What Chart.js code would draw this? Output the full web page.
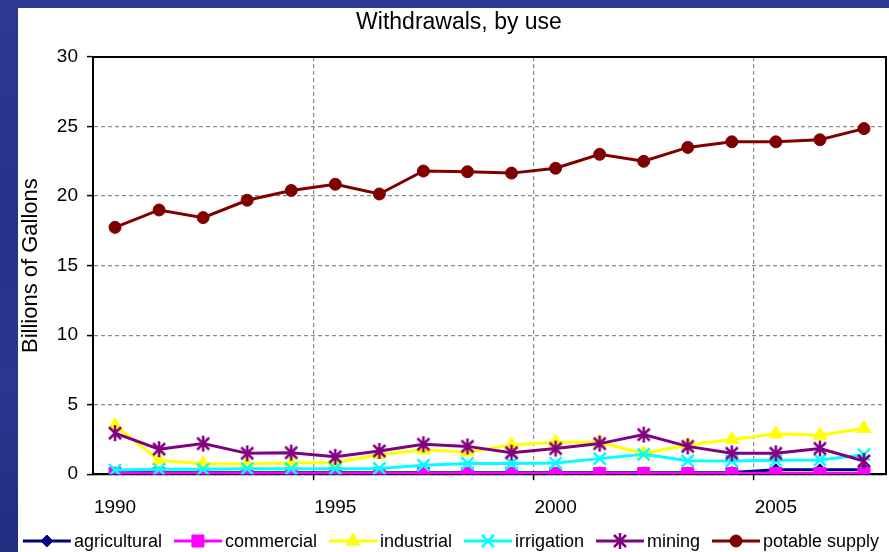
<!DOCTYPE html>
<html>
<head>
<meta charset="utf-8">
<script src="https://cdn.jsdelivr.net/npm/chart.js@4.4.1/dist/chart.umd.min.js"></script>
<style>
  html, body { margin: 0; padding: 0; }
  body {
    width: 889px; height: 552px; overflow: hidden; position: relative;
    background: linear-gradient(180deg, #2c3a92 0%, #25328a 40%, #2a378f 70%, #222d80 100%);
  }
  #panel { position: absolute; left: 18px; top: 8px; width: 871px; height: 544px; background: #fff; }
  canvas { display: block; }
</style>
</head>
<body>
<div id="panel"><canvas id="c" width="871" height="544"></canvas></div>
<script>
// ---- data ----
const years = ['1990','1991','1992','1993','1994','1995','1996','1997','1998','1999',
               '2000','2001','2002','2003','2004','2005','2006','2007'];
const xTickLabels = ['1990','1995','2000','2005'];
const yTicks = [0, 5, 10, 15, 20, 25, 30];
const chartTitle = 'Withdrawals, by use';
const yTitle = 'Billions of Gallons';

const agricultural = [0.1,0.1,0.1,0.1,0.1,0.1,0.1,0.1,0.1,0.1,0.1,0.1,0.1,0.1,0.12,0.32,0.32,0.32];
const commercial   = [0.05,0.05,0.05,0.05,0.05,0.05,0.05,0.05,0.05,0.05,0.05,0.05,0.05,0.05,0.05,0.05,0.05,0.05];
const industrial   = [3.5,1.0,0.75,0.75,0.8,0.85,1.4,1.75,1.6,2.1,2.3,2.3,1.5,2.1,2.5,2.9,2.8,3.3];
const irrigation   = [0.3,0.35,0.35,0.4,0.4,0.4,0.41,0.65,0.77,0.77,0.8,1.12,1.43,0.96,0.95,1.0,1.03,1.4];
const mining       = [2.95,1.8,2.2,1.5,1.55,1.25,1.67,2.15,2.0,1.55,1.84,2.2,2.85,2.0,1.5,1.5,1.85,0.95];
const potable      = [17.75,19.0,18.45,19.7,20.4,20.85,20.15,21.8,21.75,21.65,22.0,23.0,22.5,23.5,23.9,23.9,24.05,24.85];

const seriesNames = ['agricultural','commercial','industrial','irrigation','mining','potable supply'];

// ---- styling ----
const FONT = "'Liberation Sans', Arial, Helvetica, sans-serif";

// Excel-like six-armed asterisk marker
function makeAsterisk(color) {
  const c = document.createElement('canvas');
  c.width = 18; c.height = 18;
  const g = c.getContext('2d');
  g.strokeStyle = color; g.lineWidth = 2.5; g.lineCap = 'butt';
  g.beginPath();
  g.moveTo(3, 3); g.lineTo(15, 15);
  g.moveTo(15, 3); g.lineTo(3, 15);
  g.moveTo(9, 1); g.lineTo(9, 17);
  g.stroke();
  return c;
}

const styles = [
  { color: '#000080', pointStyle: 'rectRot',  radius: 6,   bw: 1 },
  { color: '#ff00ff', pointStyle: 'rect',     radius: 8.5, bw: 1 },
  { color: '#ffff00', pointStyle: 'triangle', radius: 8,   bw: 1 },
  { color: '#00ffff', pointStyle: 'crossRot', radius: 8.5, bw: 2.5 },
  { color: '#800080', pointStyle: makeAsterisk('#800080'), radius: 8, bw: 2.5 },
  { color: '#800000', pointStyle: 'circle',   radius: 6,   bw: 1 }
];
const values = [agricultural, commercial, industrial, irrigation, mining, potable];

const datasets = values.map((v, i) => ({
  label: seriesNames[i],
  data: v,
  borderColor: styles[i].color,
  backgroundColor: styles[i].color,
  borderWidth: 3,
  pointStyle: styles[i].pointStyle,
  pointRadius: styles[i].radius,
  pointBorderWidth: styles[i].bw,
  pointBackgroundColor: styles[i].color,
  pointBorderColor: styles[i].color,
  tension: 0,
  order: values.length - i   // later series drawn on top, like the original
}));

// frame around the plot area + chart title
const framePlugin = {
  id: 'frame',
  beforeDatasetsDraw(chart) {
    const { ctx, chartArea: a } = chart;
    ctx.save();
    ctx.strokeStyle = '#000';
    ctx.lineWidth = 2;
    ctx.setLineDash([]);
    ctx.strokeRect(a.left, a.top, a.right - a.left, a.bottom - a.top);
    ctx.restore();
  },
  afterDraw(chart) {
    const ctx = chart.ctx;
    ctx.save();
    ctx.font = '23px ' + FONT;
    ctx.fillStyle = '#000';
    ctx.textAlign = 'center';
    ctx.textBaseline = 'middle';
    ctx.fillText(chartTitle, 441, 15);
    ctx.restore();
  }
};

// legend with line + marker, like the original
const lineLegend = {
  id: 'lineLegend',
  afterDraw(chart) {
    const ctx = chart.ctx;
    const y = 533;
    const lineLen = 48, gapText = 3, gapItem = 12;
    ctx.save();
    ctx.font = '18px ' + FONT;
    const widths = chart.data.datasets.map(d => ctx.measureText(d.label).width);
    const total = widths.reduce((s, w) => s + lineLen + gapText + w, 0) + gapItem * (widths.length - 1);
    let x = 433 - total / 2;
    chart.data.datasets.forEach((d, i) => {
      ctx.strokeStyle = d.borderColor;
      ctx.lineWidth = 3;
      ctx.beginPath();
      ctx.moveTo(x, y);
      ctx.lineTo(x + lineLen, y);
      ctx.stroke();
      ctx.fillStyle = d.pointBackgroundColor;
      ctx.strokeStyle = d.pointBorderColor;
      ctx.lineWidth = d.pointBorderWidth;
      Chart.helpers.drawPoint(ctx, {
        pointStyle: d.pointStyle, radius: d.pointRadius, rotation: 0, borderWidth: d.pointBorderWidth
      }, x + lineLen / 2, y);
      ctx.fillStyle = '#000';
      ctx.textBaseline = 'middle';
      ctx.textAlign = 'left';
      ctx.fillText(d.label, x + lineLen + gapText, y + 1);
      x += lineLen + gapText + widths[i] + gapItem;
    });
    ctx.restore();
  }
};

const isMajor = c => c.index > 0 && c.index < years.length && c.index % 5 === 0;

new Chart(document.getElementById('c'), {
  type: 'line',
  data: { labels: years, datasets },
  options: {
    responsive: false,
    animation: false,
    layout: { autoPadding: false, padding: { left: 0, right: 3, top: 49, bottom: 17 } },
    plugins: {
      legend: { display: false },
      tooltip: { enabled: false },
      title: { display: false }
    },
    scales: {
      x: {
        type: 'category',
        offset: true,
        afterFit: s => { s.paddingLeft = 0; s.paddingRight = 0; },
        grid: {
          offset: true,
          color: c => isMajor(c) ? '#8a8a8a' : 'rgba(0,0,0,0)',
          tickColor: c => isMajor(c) ? '#000' : 'rgba(0,0,0,0)',
          tickBorderDash: [10, 0],
          lineWidth: 1.2,
          tickWidth: 1.5,
          tickLength: 6,
          drawTicks: true
        },
        border: { display: true, color: '#000', width: 2, dash: [4, 3] },
        ticks: {
          autoSkip: false,
          maxRotation: 0,
          minRotation: 0,
          padding: 16,
          color: '#000',
          font: { family: FONT, size: 19 },
          callback: function (val) {
            const lab = this.getLabelForValue(val);
            return xTickLabels.includes(lab) ? lab : '';
          }
        }
      },
      y: {
        min: 0,
        max: 30,
        afterFit: s => { s.width = 75; },
        afterBuildTicks: s => { s.ticks = yTicks.map(v => ({ value: v })); },
        grid: {
          color: '#8a8a8a',
          tickBorderDash: [10, 0],
          tickColor: '#000',
          tickLength: 6,
          tickWidth: 1.5,
          lineWidth: 1.2
        },
        border: { display: true, color: '#000', width: 2, dash: [4, 3] },
        ticks: {
          padding: 9,
          color: '#000',
          font: { family: FONT, size: 19 }
        },
        title: {
          display: true,
          text: yTitle,
          color: '#000',
          font: { family: FONT, size: 22 },
          padding: { top: 0, bottom: 0 }
        }
      }
    }
  },
  plugins: [framePlugin, lineLegend]
});
</script>
</body>
</html>
